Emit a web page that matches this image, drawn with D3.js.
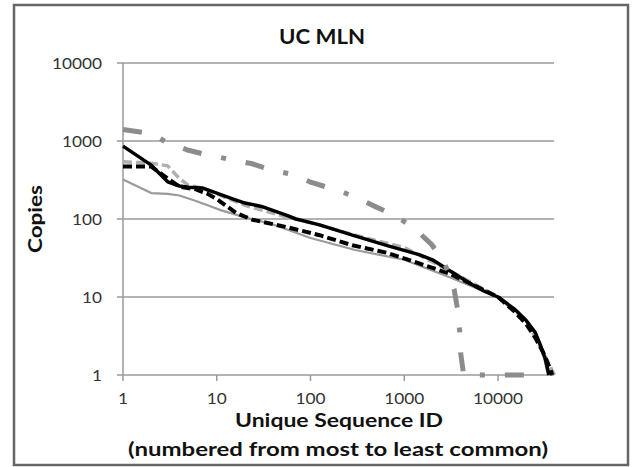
<!DOCTYPE html>
<html>
<head>
<meta charset="utf-8">
<script src="https://cdn.jsdelivr.net/npm/d3@7/dist/d3.min.js"></script>
<style>
  html, body { margin: 0; padding: 0; background: #fff; }
  svg { display: block; }
  text { font-family: Lato, "Open Sans", sans-serif; }
</style>
</head>
<body>
<svg id="chart" width="639" height="467"></svg>
<script>
const title = "UC MLN";
const xLabel1 = "Unique Sequence ID";
const xLabel2 = "(numbered from most to least common)";
const yLabel = "Copies";
const xTicks = [1, 10, 100, 1000, 10000];
const yTicks = [1, 10, 100, 1000, 10000];

// [rank, copies]
const blackSolid = [[1,860],[2,490],[3,300],[4,265],[5,255],[7,250],[10,215],[15,180],[20,160],[30,145],[55,112],[70,100],[125,84],[280,62],[645,46],[1440,35],[2000,30],[3000,22],[5000,15],[7000,12],[10000,10],[15000,7],[20000,5],[25000,3.5],[28000,2.5],[32000,1.6],[35000,1]];
const blackDashed = [[1,470],[2,470],[3,330],[4,260],[6,240],[8,210],[10,180],[16,120],[24,98],[55,79],[125,62],[280,46],[645,37],[1440,27],[3000,20],[5000,15],[10000,10],[15000,6.5],[20000,4.5],[25000,3],[30000,2],[35000,1.3],[38000,1]];
const greySolid = [[1,320],[2,215],[3,210],[4,200],[6,170],[8,150],[11,130],[20,105],[40,85],[100,57],[300,40],[1000,30],[3000,18],[10000,10],[15000,7],[20000,5],[25000,3.3],[30000,2],[34000,1]];
const greyDashed = [[1,540],[2,520],[3,480],[4,330],[5,270],[7,250],[10,210],[20,150],[50,110],[100,90],[300,62],[1000,43],[3000,22],[10000,10],[20000,5],[30000,2],[40000,1]];
const dashDot = [[1,1400],[2,1250],[3,940],[5,760],[8,660],[13,590],[24,510],[39,420],[63,375],[98,300],[148,257],[224,220],[350,175],[505,142],[745,116],[1070,88],[1450,66],[1930,48],[2450,33],[2800,24],[3400,12.6],[3750,6.4],[3900,3.7],[4000,1.9],[4300,1],[20000,1]];

const svg = d3.select("#chart");

svg.append("rect").attr("x", 14).attr("y", 5).attr("width", 614).attr("height", 460)
  .attr("fill", "#fff").attr("stroke", "#666").attr("stroke-width", 2.5);

const x = d3.scaleLog().domain([1, 10000]).range([123, 498]);
const y = d3.scaleLog().domain([1, 10000]).range([375, 63]);

const g = svg.append("g");
g.selectAll("line.grid").data(yTicks).join("line")
  .attr("x1", 117).attr("x2", 554)
  .attr("y1", d => y(d)).attr("y2", d => y(d))
  .attr("stroke", "#9a9a9a").attr("stroke-width", 1.5);
g.append("line").attr("x1", 123).attr("x2", 123).attr("y1", y(10000)).attr("y2", y(1))
  .attr("stroke", "#9a9a9a").attr("stroke-width", 1.5);
g.selectAll("line.xt").data(xTicks).join("line")
  .attr("x1", d => x(d)).attr("x2", d => x(d)).attr("y1", y(1)).attr("y2", y(1) + 6)
  .attr("stroke", "#9a9a9a").attr("stroke-width", 1.5);

g.selectAll("text.yl").data(yTicks).join("text")
  .attr("x", 102).attr("y", d => y(d) + 5.5).attr("text-anchor", "end")
  .attr("font-size", 15).attr("fill", "#333")
  .attr("textLength", d => String(d).length * 10).attr("lengthAdjust", "spacingAndGlyphs")
  .text(d => d);
g.selectAll("text.xl").data(xTicks).join("text")
  .attr("x", d => x(d)).attr("y", 404).attr("text-anchor", "middle")
  .attr("font-size", 15).attr("fill", "#333")
  .attr("textLength", d => String(d).length * 10).attr("lengthAdjust", "spacingAndGlyphs")
  .text(d => d);

const line = d3.line().x(d => x(d[0])).y(d => y(d[1]));
const series = [
  { data: greySolid, color: "#9a9a9a", width: 2.2, dash: null },
  { data: greyDashed, color: "#b0b0b0", width: 3.5, dash: "9,4" },
  { data: blackSolid, color: "#000", width: 3.5, dash: null },
  { data: blackDashed, color: "#000", width: 4, dash: "9,4" },
  { data: dashDot, color: "#8c8c8c", width: 5, dash: "19,20,5,20" }
];
series.forEach(s => {
  svg.append("path").datum(s.data).attr("d", line)
    .attr("fill", "none").attr("stroke", s.color).attr("stroke-width", s.width)
    .attr("stroke-dasharray", s.dash).attr("stroke-linecap", "butt")
    .attr("stroke-linejoin", "round");
});

svg.append("text").attr("x", 322).attr("y", 44).attr("text-anchor", "middle")
  .attr("font-size", 20).attr("font-weight", "bold").attr("fill", "#111")
  .attr("textLength", 86).attr("lengthAdjust", "spacingAndGlyphs").text(title);
svg.append("text").attr("transform", "translate(42,219) rotate(-90)").attr("text-anchor", "middle")
  .attr("font-size", 19).attr("font-weight", "bold").attr("fill", "#111")
  .attr("textLength", 68).attr("lengthAdjust", "spacingAndGlyphs").text(yLabel);
svg.append("text").attr("x", 339).attr("y", 427).attr("text-anchor", "middle")
  .attr("font-size", 18).attr("font-weight", "bold").attr("fill", "#111")
  .attr("textLength", 208).attr("lengthAdjust", "spacingAndGlyphs").text(xLabel1);
svg.append("text").attr("x", 338).attr("y", 456).attr("text-anchor", "middle")
  .attr("font-size", 18).attr("font-weight", "bold").attr("fill", "#111")
  .attr("textLength", 420).attr("lengthAdjust", "spacingAndGlyphs").text(xLabel2);
</script>
</body>
</html>
